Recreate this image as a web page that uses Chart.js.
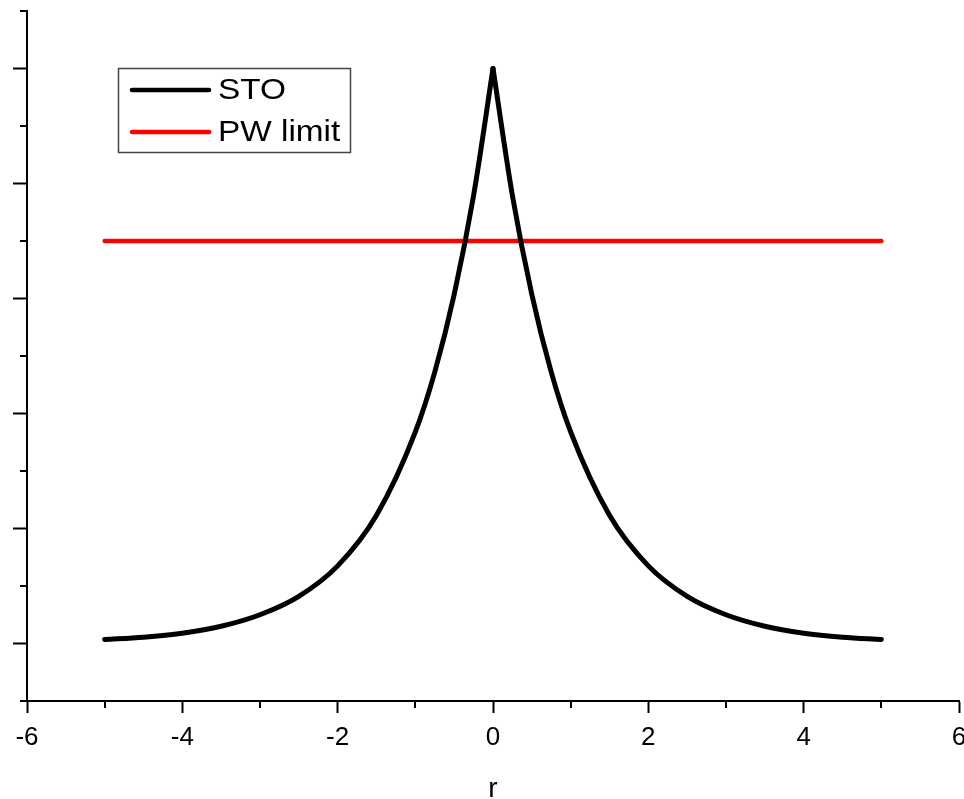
<!DOCTYPE html>
<html>
<head>
<meta charset="utf-8">
<script src="https://cdn.jsdelivr.net/npm/chart.js@4.4.0/dist/chart.umd.min.js"></script>
<style>
  html, body { margin: 0; padding: 0; background: #fff; }
  #wrap { width: 964px; height: 799px; position: relative; }
</style>
</head>
<body>
<div id="wrap"><canvas id="grafico"></canvas></div>
<script>
// valores (curva STO dividida no pico em r = 0)
const rEsq = [-5, -4.5, -4, -3.5, -3, -2.5, -2, -1.5, -1, -0.75, -0.5, -0.25, 0];
const stoEsq = [0.007, 0.011, 0.018, 0.030, 0.050, 0.082, 0.135, 0.223, 0.368, 0.472, 0.607, 0.779, 1.0];
const rDir = [0, 0.25, 0.5, 0.75, 1, 1.5, 2, 2.5, 3, 3.5, 4, 4.5, 5];
const stoDir = [1.0, 0.779, 0.607, 0.472, 0.368, 0.223, 0.135, 0.082, 0.050, 0.030, 0.018, 0.011, 0.007];
const pwR = [-5, 5];
const pwValores = [0.7, 0.7];
const xTicksMaiores = [-6, -4, -2, 0, 2, 4, 6];
const xTicksMenores = [-5, -3, -1, 1, 3, 5];
const yTicksMaiores = [0, 0.2, 0.4, 0.6, 0.8, 1.0];
const yTicksMenores = [-0.1, 0.1, 0.3, 0.5, 0.7, 0.9, 1.1];
const legendas = ['STO', 'PW limit'];
const cores = ['#000000', '#ff0000'];

const fonte = '"Liberation Sans", Arial, sans-serif';

// ticks menores e legenda desenhados à mão
const extras = {
  id: 'extras',
  afterDraw(chart) {
    const ctx = chart.ctx;
    const xs = chart.scales.x, ys = chart.scales.y;
    const area = chart.chartArea;
    ctx.save();
    ctx.strokeStyle = '#000';
    ctx.lineWidth = 2;
    ctx.beginPath();
    xTicksMenores.forEach(v => {
      const px = Math.round(xs.getPixelForValue(v));
      ctx.moveTo(px, area.bottom);
      ctx.lineTo(px, area.bottom + 7);
    });
    yTicksMenores.forEach(v => {
      const py = Math.round(ys.getPixelForValue(v));
      ctx.moveTo(area.left, py);
      ctx.lineTo(area.left - 7, py);
    });
    ctx.stroke();

    // legenda
    ctx.lineWidth = 1.5;
    ctx.strokeStyle = '#444';
    ctx.strokeRect(118.5, 68.5, 232, 84);
    ctx.textBaseline = 'middle';
    ctx.fillStyle = '#000';
    legendas.forEach((txt, i) => {
      const y = 90 + i * 42;
      ctx.strokeStyle = cores[i];
      ctx.lineWidth = 4.5;
      ctx.lineCap = 'round';
      ctx.beginPath();
      ctx.moveTo(132, y);
      ctx.lineTo(209, y);
      ctx.stroke();
      ctx.save();
      ctx.translate(218, y + 1);
      ctx.scale(1.15, 1);
      ctx.font = '29px ' + fonte;
      ctx.fillText(txt, 0, 0);
      ctx.restore();
    });
    ctx.restore();
  }
};

const serieSTO = (rs, vs) => ({
  label: legendas[0],
  data: rs.map((r, i) => ({ x: r, y: vs[i] })),
  borderColor: cores[0],
  borderWidth: 5,
  pointRadius: 0,
  cubicInterpolationMode: 'monotone',
  borderCapStyle: 'round',
  borderJoinStyle: 'round',
  fill: false
});

const ctx = document.getElementById('grafico').getContext('2d');
const grafico = new Chart(ctx, {
  type: 'line',
  data: {
    datasets: [
      serieSTO(rEsq, stoEsq),
      serieSTO(rDir, stoDir),
      {
        label: legendas[1],
        data: pwR.map((r, i) => ({ x: r, y: pwValores[i] })),
        borderColor: cores[1],
        borderWidth: 4.5,
        pointRadius: 0,
        borderCapStyle: 'round',
        fill: false
      }
    ]
  },
  options: {
    responsive: true,
    maintainAspectRatio: false,
    animation: false,
    layout: { padding: { top: 11, right: 5, left: 0, bottom: 0 } },
    plugins: { legend: { display: false }, tooltip: { enabled: false } },
    scales: {
      x: {
        type: 'linear',
        min: -6,
        max: 6,
        afterBuildTicks: s => { s.ticks = xTicksMaiores.map(v => ({ value: v })); },
        afterFit: s => { s.height = 98; s.paddingLeft = 0; s.paddingRight = 0; },
        border: { display: true, color: '#000', width: 2 },
        grid: { display: true, drawOnChartArea: false, drawTicks: true, tickLength: 12, tickWidth: 2, tickColor: '#000' },
        ticks: { color: '#000', font: { family: fonte, size: 26 }, padding: 9, maxRotation: 0 },
        title: { display: true, text: 'r', color: '#000', font: { family: fonte, size: 28 }, padding: { top: 18, bottom: -7 } }
      },
      y: {
        type: 'linear',
        min: -0.1,
        max: 1.1,
        afterBuildTicks: s => { s.ticks = yTicksMaiores.map(v => ({ value: v })); },
        afterFit: s => { s.width = 27; },
        border: { display: true, color: '#000', width: 2 },
        grid: { display: true, drawOnChartArea: false, drawTicks: true, tickLength: 14, tickWidth: 2, tickColor: '#000' },
        ticks: { callback: () => '' }
      }
    }
  },
  plugins: [extras]
});
</script>
</body>
</html>
